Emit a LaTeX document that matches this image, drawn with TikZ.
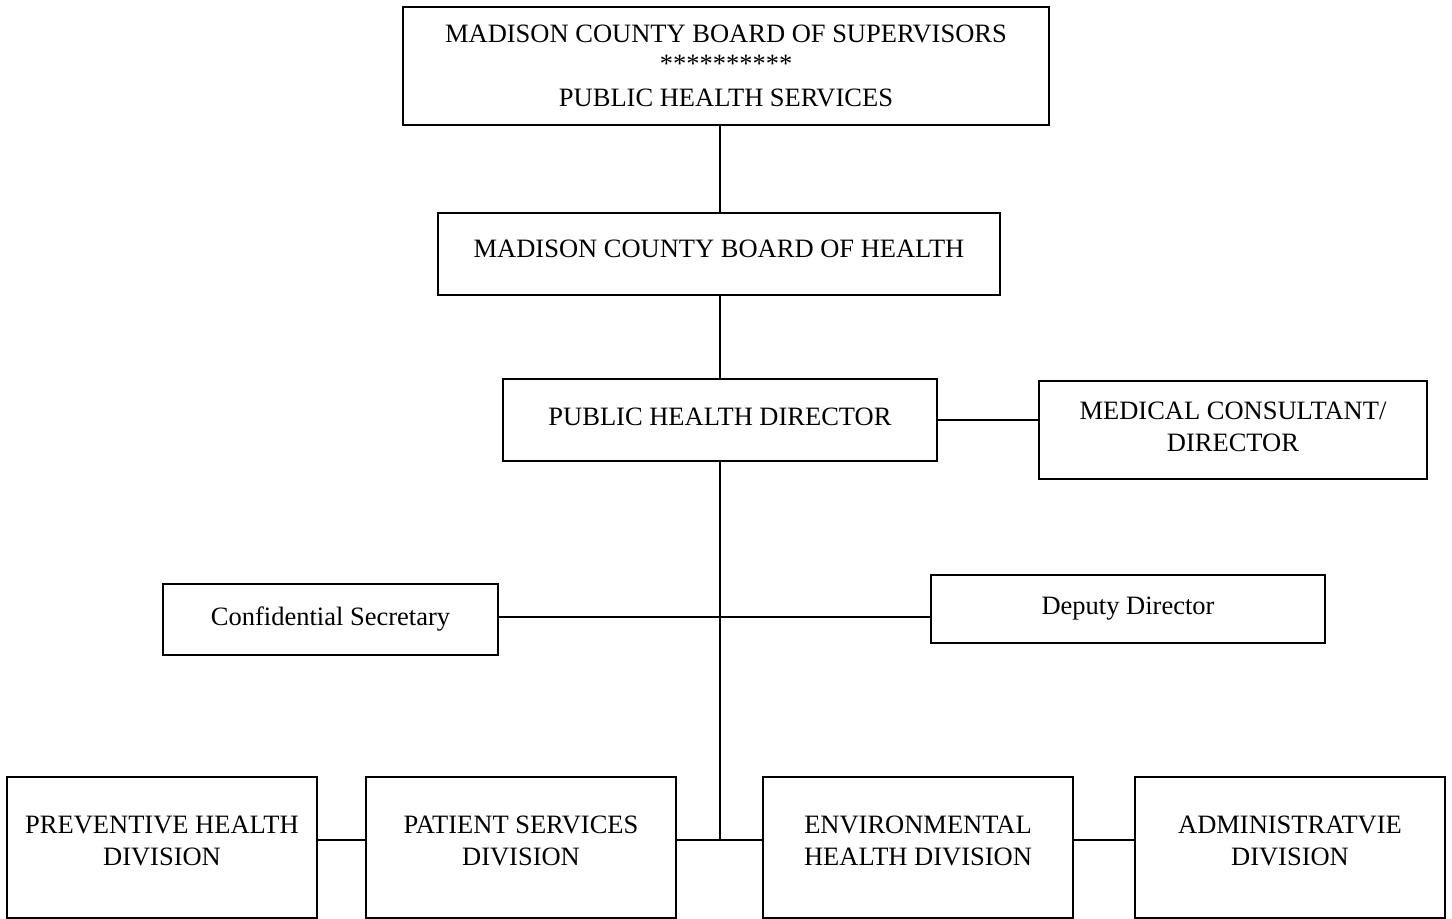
\documentclass[tikz,border=0pt]{standalone}
\usepackage{fontspec}
\setmainfont{Liberation Serif}
\usetikzlibrary{calc}
\tikzset{
  office/.style={draw=black,line width=1pt,align=center,inner sep=0pt,
                 text=black,font=\fontsize{13.25}{16}\selectfont},
  division/.style={office,minimum width=155pt,minimum height=70.5pt,lift=6.5pt},
  lift/.style={execute at end node={\rule[-#1]{0pt}{0pt}}},
  link/.style={line width=1pt,draw=black}
}
\begin{document}
\begin{tikzpicture}[x=0.5pt,y=-0.5pt]
  \useasboundingbox (0,0) rectangle (1452,919);
  \node[office,minimum width=323pt,minimum height=59pt] (sup) at (726,66)
    {MADISON COUNTY BOARD OF SUPERVISORS\\[-1pt]**********\\[1pt]PUBLIC HEALTH SERVICES};
  \node[office,minimum width=281pt,minimum height=41pt,lift=5pt] (boh) at (719,254)
    {MADISON COUNTY BOARD OF HEALTH};
  \node[office,minimum width=217pt,minimum height=41pt,lift=3.5pt] (phd) at (720,420)
    {PUBLIC HEALTH DIRECTOR};
  \node[office,minimum width=194pt,minimum height=49pt,lift=3pt] (med) at (1233,430)
    {MEDICAL CONSULTANT/\\DIRECTOR};
  \node[office,minimum width=167.5pt,minimum height=35.5pt] (sec) at (330.5,619.5)
    {Confidential Secretary};
  \node[office,minimum width=197pt,minimum height=34pt] (dep) at (1128,609)
    {Deputy Director};
  \node[division] (pre) at (162,847.5) {PREVENTIVE HEALTH\\DIVISION};
  \node[division] (pat) at (521,847.5) {PATIENT SERVICES\\DIVISION};
  \node[division] (env) at (918,847.5) {ENVIRONMENTAL\\HEALTH DIVISION};
  \node[division] (adm) at (1290,847.5) {ADMINISTRATVIE\\DIVISION};
  \coordinate (hub) at (720,617.5);
  \coordinate (bus) at (720,840);
  \draw[link] (sup.south -| hub) -- (boh.north -| hub);
  \draw[link] (boh.south -| hub) -- (phd.north -| hub);
  \draw[link] (phd.south -| hub) -- (bus);
  \draw[link] (phd.east) -- (phd.east -| med.west);
  \draw[link] (sec.east |- hub) -- (dep.west |- hub);
  \draw[link] (pre.east |- bus) -- (pat.west |- bus);
  \draw[link] (pat.east |- bus) -- (env.west |- bus);
  \draw[link] (env.east |- bus) -- (adm.west |- bus);
\end{tikzpicture}
\end{document}
